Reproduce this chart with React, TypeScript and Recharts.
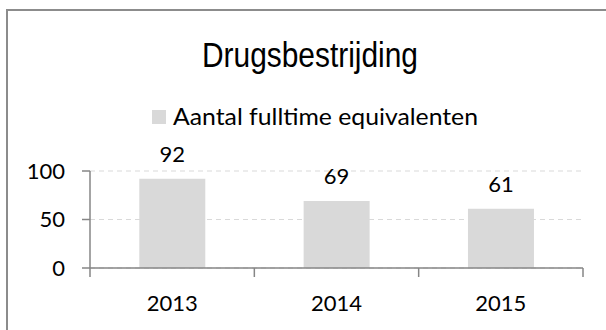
import React from "react";
import { Bar, BarChart, CartesianGrid, LabelList, XAxis, YAxis } from "recharts";

const title = "Drugsbestrijding";
const seriesName = "Aantal fulltime equivalenten";
const years = ["2013", "2014", "2015"];
const fte = [92, 69, 61];
const yTicks = [0, 50, 100];

const data = years.map((year, i) => ({ year, fte: fte[i] }));

const axisColor = "#868686";
const barColor = "#d9d9d9";
const font = "Lato, 'Open Sans', sans-serif";

// category ticks sit between the bars, like in Excel
function YearTick(props: any) {
  const { x, y, payload, index, width, visibleTicksCount } = props;
  const half = payload?.offset ?? width / visibleTicksCount / 2;
  const last = index === visibleTicksCount - 1;
  return (
    <g>
      <line x1={x - half} x2={x - half} y1={y} y2={y + 9} stroke={axisColor} strokeWidth={1.5} />
      {last && (
        <line x1={x + half} x2={x + half} y1={y} y2={y + 9} stroke={axisColor} strokeWidth={1.5} />
      )}
      <text x={x} y={y + 43} textAnchor="middle" fontSize={22} fontFamily={font} fill="#000">
        {payload.value}
      </text>
    </g>
  );
}

export default function App() {
  return (
    <div
      style={{
        position: "absolute",
        left: 0,
        top: 0,
        width: 606,
        height: 330,
        overflow: "hidden",
        background: "#fff",
      }}
    >
      <BarChart
        width={606}
        height={330}
        data={data}
        margin={{ top: 171, right: 23, bottom: 32, left: 30 }}
        barCategoryGap="30%"
      >
        <CartesianGrid vertical={false} stroke="#d9d9d9" strokeDasharray="5 4" />
        <XAxis
          dataKey="year"
          height={30}
          tickLine={false}
          tickSize={0}
          tickMargin={0}
          axisLine={{ stroke: axisColor, strokeWidth: 1.5 }}
          tick={<YearTick />}
          interval={0}
        />
        <YAxis
          width={60}
          domain={[0, 100]}
          ticks={yTicks}
          tickSize={8}
          tickMargin={17}
          axisLine={{ stroke: axisColor, strokeWidth: 1.5 }}
          tickLine={{ stroke: axisColor, strokeWidth: 1.5 }}
          tick={{ fontSize: 22, fontFamily: font, fill: "#000" }}
        />
        <Bar dataKey="fte" name={seriesName} fill={barColor} isAnimationActive={false}>
          <LabelList
            dataKey="fte"
            position="top"
            offset={17}
            style={{ fontSize: 22, fontFamily: font, fill: "#000" }}
          />
        </Bar>
      </BarChart>
      <svg
        width={606}
        height={330}
        style={{ position: "absolute", left: 0, top: 0, pointerEvents: "none" }}
      >
        {/* chart area frame, cut off on the right and bottom */}
        <path d="M7 340 V10 H620" fill="none" stroke="#8c8c8c" strokeWidth={2} />
        <text
          x={310}
          y={67}
          textAnchor="middle"
          fontSize={35}
          fontFamily="'Liberation Sans', Arial, sans-serif"
          textLength={216}
          lengthAdjust="spacingAndGlyphs"
          fill="#000"
        >
          {title}
        </text>
        <rect x={152} y={110} width={14} height={14} fill={barColor} />
        <text
          x={173}
          y={125}
          fontSize={23}
          fontFamily={font}
          textLength={305}
          lengthAdjust="spacingAndGlyphs"
          fill="#000"
        >
          {seriesName}
        </text>
      </svg>
    </div>
  );
}
